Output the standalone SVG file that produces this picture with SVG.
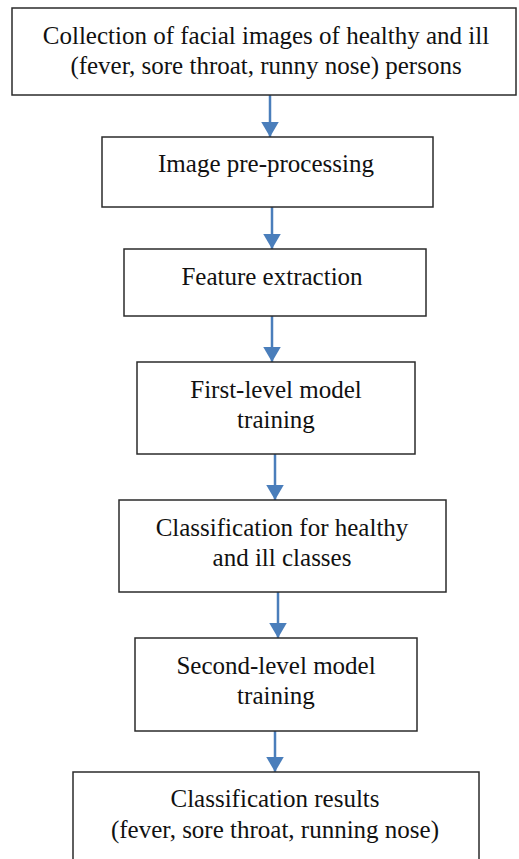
<svg xmlns="http://www.w3.org/2000/svg" width="519" height="859" viewBox="0 0 519 859">
<defs>
<style>
.box{fill:#fff;stroke:#2b2b2b;stroke-width:1.5}
.t{font-family:"Liberation Serif","DejaVu Serif",serif;font-size:25px;fill:#111;text-anchor:middle}
.c{stroke:#4a7ebb;stroke-width:2.5;fill:none}
</style>
<marker id="ah" markerWidth="6" markerHeight="7" refX="6" refY="3.5" orient="auto" markerUnits="strokeWidth">
<path d="M0,0 L6,3.5 L0,7 Z" fill="#4a7ebb"/>
</marker>
</defs>
<rect width="519" height="859" fill="#fff"/>
<g id="connectors">
<line class="c" x1="270" y1="95" x2="270" y2="137" marker-end="url(#ah)"/>
<line class="c" x1="272" y1="207" x2="272" y2="249" marker-end="url(#ah)"/>
<line class="c" x1="272" y1="316" x2="272" y2="362" marker-end="url(#ah)"/>
<line class="c" x1="275" y1="454" x2="275" y2="500" marker-end="url(#ah)"/>
<line class="c" x1="278" y1="592" x2="278" y2="638" marker-end="url(#ah)"/>
<line class="c" x1="275" y1="731" x2="275" y2="772" marker-end="url(#ah)"/>
</g>
<g id="n1"><rect class="box" x="12" y="8" width="504" height="87"/>
<text class="t" x="266" y="44">Collection of facial images of healthy and ill</text>
<text class="t" x="266" y="74">(fever, sore throat, runny nose) persons</text></g>
<g id="n2"><rect class="box" x="102" y="137" width="331" height="70"/>
<text class="t" x="266" y="172">Image pre-processing</text></g>
<g id="n3"><rect class="box" x="124" y="249" width="302" height="67"/>
<text class="t" x="272" y="285">Feature extraction</text></g>
<g id="n4"><rect class="box" x="137" y="362" width="278" height="92"/>
<text class="t" x="276" y="398">First-level model</text>
<text class="t" x="276" y="428">training</text></g>
<g id="n5"><rect class="box" x="119" y="500" width="327" height="92"/>
<text class="t" x="282" y="536">Classification for healthy</text>
<text class="t" x="282" y="566">and ill classes</text></g>
<g id="n6"><rect class="box" x="135" y="638" width="282" height="93"/>
<text class="t" x="276" y="674">Second-level model</text>
<text class="t" x="276" y="704">training</text></g>
<g id="n7"><rect class="box" x="73" y="772" width="406" height="100"/>
<text class="t" x="275" y="807">Classification results</text>
<text class="t" x="275" y="838">(fever, sore throat, running nose)</text></g>
</svg>
